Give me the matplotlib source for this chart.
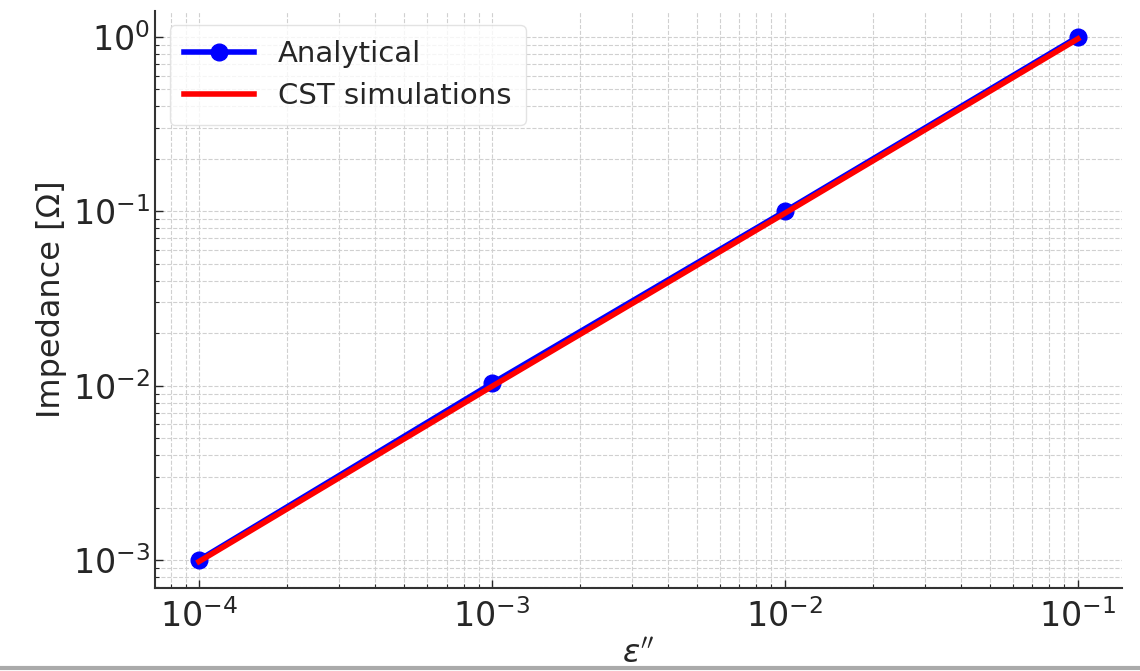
import numpy as np
import matplotlib.pyplot as plt
from matplotlib.lines import Line2D

# loss factor sweep and resulting impedance
eps_imag = [1e-4, 1e-3, 1e-2, 1e-1]
z_analytical = [1.0e-3, 1.03e-2, 1.0e-1, 1.0]
z_cst = [0.98e-3, 0.99e-2, 0.975e-1, 0.975]

plt.rcParams['font.family'] = 'DejaVu Sans'
plt.rcParams['text.color'] = '#262626'
plt.rcParams['axes.labelcolor'] = '#262626'
plt.rcParams['xtick.color'] = '#262626'
plt.rcParams['ytick.color'] = '#262626'

fig = plt.figure(figsize=(11.4, 6.71), dpi=100)
ax = fig.add_axes([0.136, 0.124, 0.848, 0.86])

ax.plot(eps_imag, z_analytical, color='blue', lw=4, marker='o', ms=12, label='Analytical')
ax.plot(eps_imag, z_cst, color='red', lw=4, label='CST simulations')

ax.set_xscale('log')
ax.set_yscale('log')
ax.set_xlabel(r"$\varepsilon''$", fontsize=23)
ax.set_ylabel('Impedance [Ω]', fontsize=23)

ax.grid(True, which='both', ls='--', color='#d0d0d0', lw=0.8)
ax.tick_params(which='both', direction='in', labelsize=24)
ax.tick_params(which='major', length=6, width=1)
ax.tick_params(which='minor', length=3, width=0.8)
ax.tick_params(axis='x', pad=8)
for side in ['top', 'right']:
    ax.spines[side].set_visible(False)
for side in ['left', 'bottom']:
    ax.spines[side].set_color('#333333')
    ax.spines[side].set_linewidth(1.5)

leg = ax.legend(loc='upper left', fontsize=21, frameon=True, fancybox=True,
                handlelength=2.4, borderpad=0.5)
leg.get_frame().set_edgecolor('#dddddd')

# thin gray rule along the bottom edge of the figure
fig.add_artist(Line2D([0, 1], [0.004, 0.004], transform=fig.transFigure,
                      color='#aaaaaa', lw=3))

fig.savefig('out.png', dpi=100)
